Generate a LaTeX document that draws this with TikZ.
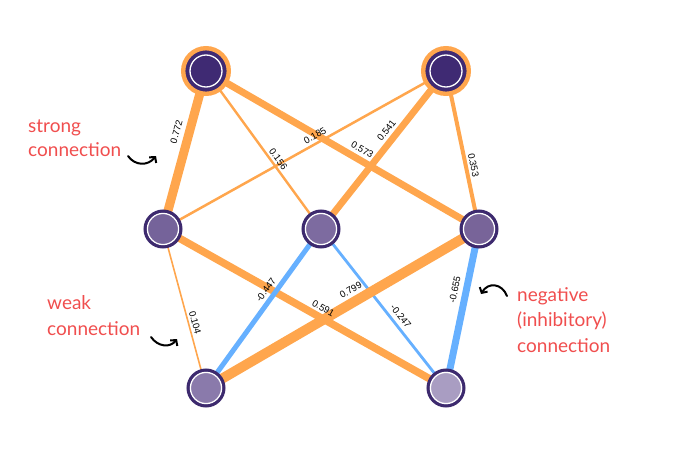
\documentclass[tikz,border=0pt]{standalone}
\usepackage{fontspec}
\setmainfont{Liberation Sans}
\newfontfamily\annfont{Lato}
\usetikzlibrary{backgrounds,arrows.meta}
\definecolor{edgeor}{HTML}{FFA64D}
\definecolor{edgebl}{HTML}{66B0FF}
\definecolor{ringc}{HTML}{3D2A6E}
\definecolor{topfill}{HTML}{3F2A73}
\definecolor{annred}{HTML}{F04E4E}
\definecolor{fML}{HTML}{75639A}
\definecolor{fMM}{HTML}{7D6BA0}
\definecolor{fMR}{HTML}{786499}
\definecolor{fBL}{HTML}{8A7AAB}
\definecolor{fBR}{HTML}{A99DC2}
\begin{document}
\begin{tikzpicture}[x=1pt,y=-1pt,
  neuron/.style={circle, minimum size=36pt, inner sep=0pt, draw=ringc, line width=3pt,
    path picture={\draw[white,line width=1.3pt] (path picture bounding box.center) circle[radius=15.6pt];}},
  topneuron/.style={circle, minimum size=45.6pt, inner sep=0pt, fill=topfill, draw=edgeor, line width=4.4pt,
    path picture={\draw[white,line width=1.3pt] (path picture bounding box.center) circle[radius=16pt];}},
  posedge/.style={draw=edgeor},
  negedge/.style={draw=edgebl},
  lab/.style={font=\fontsize{9.5}{11}\selectfont, sloped, inner sep=0pt, text=black},
  ann/.style={font=\annfont\fontsize{19}{22}\selectfont, text=annred, anchor=base west, inner sep=0pt},
  arr/.style={draw=black, line width=2pt, line cap=round, -{Straight Barb[length=4pt,width=9pt]}}
]
\useasboundingbox (0,0) rectangle (678,458);

% neurons
\node[topneuron] (TL) at (206,71) {};
\node[topneuron] (TR) at (446,71) {};
\node[neuron, fill=fML] (ML) at (163,229) {};
\node[neuron, fill=fMM] (MM) at (321,229) {};
\node[neuron, fill=fMR] (MR) at (479,229) {};
\node[neuron, fill=fBL] (BL) at (206,388) {};
\node[neuron, fill=fBR] (BR) at (446,388) {};

\begin{scope}[on background layer]
% connections
\draw[posedge, line width=9pt] (TL.center) -- (ML.center);
\draw[posedge, line width=2.4pt] (TL.center) -- (MM.center);
\draw[posedge, line width=7pt] (TL.center) -- (MR.center);
\draw[posedge, line width=2.5pt] (TR.center) -- (ML.center);
\draw[posedge, line width=6.8pt] (TR.center) -- (MM.center);
\draw[posedge, line width=4pt] (TR.center) -- (MR.center);
\draw[posedge, line width=1.6pt] (ML.center) -- (BL.center);
\draw[posedge, line width=7.5pt] (ML.center) -- (BR.center);
\draw[negedge, line width=5pt] (MM.center) -- (BL.center);
\draw[negedge, line width=2.8pt] (MM.center) -- (BR.center);
\draw[posedge, line width=10pt] (MR.center) -- (BL.center);
\draw[negedge, line width=7pt] (MR.center) -- (BR.center);
% weight labels, on top of all connections
\path (TL.center) -- node[lab, pos=.405, above=9pt] {0.772} (ML.center);
\path (TL.center) -- node[lab, pos=.583, above=3pt] {0.156} (MM.center);
\path (TL.center) -- node[lab, pos=.554, above=6.5pt] {0.573} (MR.center);
\path (TR.center) -- node[lab, pos=.45, above=3.9pt] {0.185} (ML.center);
\path (TR.center) -- node[lab, pos=.415, above=6.1pt] {0.541} (MM.center);
\path (TR.center) -- node[lab, pos=.605, above=4.1pt] {0.353} (MR.center);
\path (ML.center) -- node[lab, pos=.6, above=3pt] {0.104} (BL.center);
\path (ML.center) -- node[lab, pos=.55, above=6pt] {0.591} (BR.center);
\path (MM.center) -- node[lab, pos=.416, above=5.5pt] {-0.447} (BL.center);
\path (MM.center) -- node[lab, pos=.584, above=5.1pt] {-0.247} (BR.center);
\path (MR.center) -- node[lab, pos=.448, above=8.4pt] {0.799} (BL.center);
\path (MR.center) -- node[lab, pos=.398, above=7.7pt] {-0.655} (BR.center);
\end{scope}

% annotations
\node[ann] (strong1) at (28,132) {strong};
\node[ann] (strong2) at (28,156) {connection};
\node[ann] (weak1) at (47,309) {weak};
\node[ann] (weak2) at (47,335) {connection};
\node[ann] (neg1) at (517,301) {negative};
\node[ann] (neg2) at (517,326) {(inhibitory)};
\node[ann] (neg3) at (517,352) {connection};

\coordinate (sa) at (128,156);
\coordinate (sb) at (156,156);
\coordinate (wa) at (151,337);
\coordinate (wb) at (177,339);
\coordinate (na) at (507,296);
\coordinate (nb) at (481,294);
\draw[arr] (sa) .. controls (135,166) and (148,166) .. (sb);
\draw[arr] (wa) .. controls (158,347) and (170,348) .. (wb);
\draw[arr] (na) .. controls (502,283) and (488,282) .. (nb);
\end{tikzpicture}
\end{document}
